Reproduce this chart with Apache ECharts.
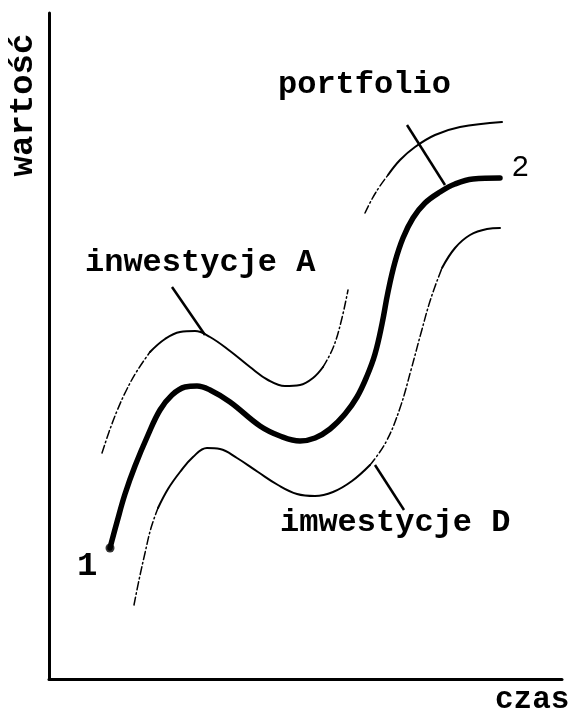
<!DOCTYPE html>
<html>
<head>
<meta charset="utf-8">
<script src="https://cdn.jsdelivr.net/npm/echarts@6/dist/echarts.min.js"></script>
<style>
    html, body { margin: 0; padding: 0; background: #fff; }
    #chart { width: 573px; height: 715px; }
</style>
</head>
<body>
<div id="chart"></div>
<script>
// [czas, wartość] — units, origin at the axes corner
var portfolio = [
    [61, 131], [68, 157], [76, 185], [86, 213], [99, 244], [111, 269], [123, 284],
    [136, 292], [148, 293], [161, 289], [181, 277], [211, 253], [231, 243], [251, 238],
    [266, 241], [281, 250], [296, 265], [308, 282], [318, 303], [326, 325], [333, 355],
    [339, 387], [346, 417], [354, 441], [364, 461], [376, 476], [391, 487], [406, 495],
    [424, 500], [451, 501]
];

// inwestycje A (upper curve), split where the drawing switches to dash-dot
var aDashStart = [[53, 226], [60, 247], [68, 268], [77, 288], [88, 308], [101, 327]];
var aSolid = [
    [101, 327], [116, 340], [131, 347], [146, 348], [161, 342], [181, 328], [201, 312],
    [219, 299], [236, 293], [251, 294], [264, 301], [274, 312]
];
var aDashMid = [[274, 312], [284, 331], [292, 357], [299, 389]];
var aDashTop = [[316, 466], [323, 480], [331, 493], [339, 504]];
var aSolidTop = [[339, 504], [351, 519], [366, 532], [386, 544], [411, 552], [453, 557]];

// inwestycje D (lower curve)
var dDashStart = [[85, 74], [90, 99], [96, 126], [102, 151], [109, 171]];
var dSolid = [
    [109, 171], [119, 190], [131, 207], [144, 222], [158, 231], [171, 230], [188, 221],
    [209, 207], [229, 194], [248, 185], [266, 183], [284, 187], [303, 198], [321, 214]
];
var dDashMid = [[321, 214], [337, 237], [351, 271], [362, 309], [372, 346], [382, 381], [393, 411]];
var dSolidTop = [[393, 411], [406, 431], [421, 444], [438, 450], [451, 451]];

// label pointers
var leaderA = [[123, 392], [156, 344]];
var leaderPortfolio = [[358, 554], [396, 494]];
var leaderD = [[326, 214], [355, 169]];

var dashDot = [8, 3, 1.5, 3];
var mono = '"Liberation Mono", "DejaVu Sans Mono", monospace';

function curve(data, width, dash) {
    return {
        type: 'line',
        data: data,
        smooth: 0.4,
        showSymbol: false,
        silent: true,
        lineStyle: { color: '#000', width: width, type: dash || 'solid', cap: 'round' },
    };
}

function leader(data) {
    return {
        type: 'line',
        data: data,
        showSymbol: false,
        silent: true,
        lineStyle: { color: '#000', width: 2.5 },
    };
}

function label(text, x, y, size, rotate) {
    return {
        type: 'text',
        x: x,
        y: y,
        rotation: rotate || 0,
        style: {
            text: text,
            fill: '#000',
            font: 'bold ' + size + 'px ' + mono,
            align: rotate ? 'center' : 'left',
            verticalAlign: 'middle',
        },
    };
}

var chart = echarts.init(document.getElementById('chart'));
chart.setOption({
    animation: false,
    backgroundColor: '#fff',
    grid: { left: 49, right: 11, top: 13, bottom: 36 },
    xAxis: {
        type: 'value',
        min: 0,
        max: 513,
        axisLine: { lineStyle: { color: '#000', width: 3 } },
        axisTick: { show: false },
        axisLabel: { show: false },
        splitLine: { show: false },
    },
    yAxis: {
        type: 'value',
        min: 0,
        max: 666,
        axisLine: { show: true, lineStyle: { color: '#000', width: 3 } },
        axisTick: { show: false },
        axisLabel: { show: false },
        splitLine: { show: false },
    },
    series: [
        curve(portfolio, 5.5),
        curve(aDashStart, 1.5, dashDot),
        curve(aSolid, 2),
        curve(aDashMid, 1.5, dashDot),
        curve(aDashTop, 1.5, dashDot),
        curve(aSolidTop, 2),
        curve(dDashStart, 1.5, dashDot),
        curve(dSolid, 2),
        curve(dDashMid, 1.5, dashDot),
        curve(dSolidTop, 2),
        leader(leaderA),
        leader(leaderPortfolio),
        leader(leaderD),
        {
            type: 'scatter',
            data: [portfolio[0]],
            symbol: 'circle',
            symbolSize: 9,
            silent: true,
            itemStyle: { color: '#000' },
        },
    ],
    graphic: [
        label('portfolio', 278, 85, 32),
        label('inwestycje A', 85, 263, 32),
        label('imwestycje D', 280, 523, 32),
        label('czas', 495, 700, 31),
        label('wartość', 23, 105, 34, Math.PI / 2),
        label('1', 77, 566, 34),
        {
            type: 'text',
            x: 512,
            y: 168,
            style: {
                text: '2',
                fill: '#000',
                font: '30px "Liberation Sans", sans-serif',
                verticalAlign: 'middle',
            },
        },
    ],
});
</script>
</body>
</html>
